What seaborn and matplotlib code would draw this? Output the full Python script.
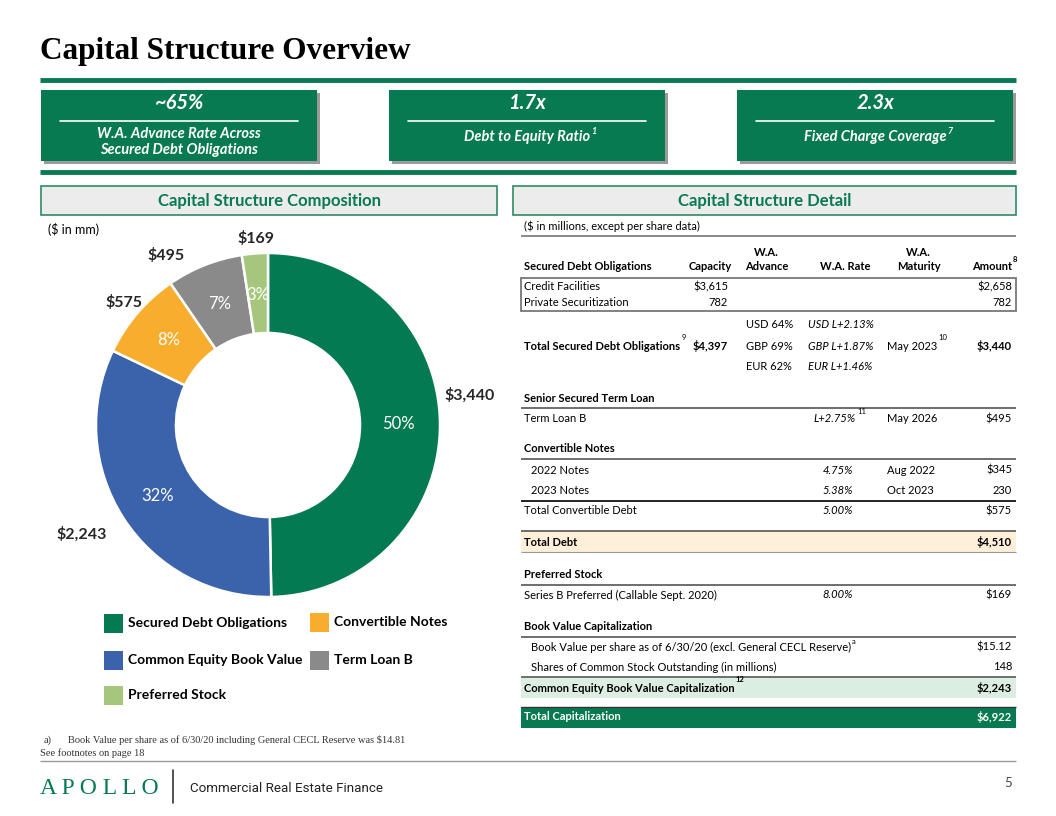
"""
Capital structure overview slide: donut of capital composition plus detail table
"""

import matplotlib
matplotlib.use("Agg")
import matplotlib.pyplot as plt
from matplotlib.patches import Rectangle
import seaborn as sns

# ---- data ----
segments = ["Secured Debt Obligations", "Common Equity Book Value",
            "Convertible Notes", "Term Loan B", "Preferred Stock"]
amounts = [3440, 2243, 575, 495, 169]
amount_labels = ["$3,440", "$2,243", "$575", "$495", "$169"]
pct_labels = ["50%", "32%", "8%", "7%", "3%"]
seg_colors = ["#047A52", "#3A63AC", "#F8AD2C", "#8A8A8A", "#A6C77B"]

kpi_values = ["~65%", "1.7x", "2.3x"]
kpi_captions = ["W.A. Advance Rate Across\nSecured Debt Obligations",
                "Debt to Equity Ratio", "Fixed Charge Coverage"]
kpi_notes = ["", "1", "7"]

secured_rows = [("Credit Facilities", "$3,615", "$2,658"),
                ("Private Securitization", "782", "782")]
advance_rates = ["USD 64%", "GBP 69%", "EUR 62%"]
spread_rates = ["USD L+2.13%", "GBP L+1.87%", "EUR L+1.46%"]
total_secured = ("Total Secured Debt Obligations", "$4,397", "May 2023", "$3,440")
term_loan = ("Term Loan B", "L+2.75%", "May 2026", "$495")
convert_rows = [("2022 Notes", "4.75%", "Aug 2022", "$345"),
                ("2023 Notes", "5.38%", "Oct 2023", "230")]
total_convert = ("Total Convertible Debt", "5.00%", "$575")
total_debt = ("Total Debt", "$4,510")
preferred = ("Series B Preferred (Callable Sept. 2020)", "8.00%", "$169")
book_rows = [("Book Value per share as of 6/30/20 (excl. General CECL Reserve)", "$15.12"),
             ("Shares of Common Stock Outstanding (in millions)", "148")]
common_equity = ("Common Equity Book Value Capitalization", "$2,243")
total_cap = ("Total Capitalization", "$6,922")

GREEN = "#077A51"
SANS = ["Lato", "DejaVu Sans"]
SERIF = ["Liberation Serif", "DejaVu Serif"]
FS = 8  # table font size

sns.set_theme(style="white")
plt.rcParams["font.family"] = SANS

fig = plt.figure(figsize=(10.56, 8.16), dpi=100)
bg = fig.add_axes([0, 0, 1, 1])
bg.set_xlim(0, 1056)
bg.set_ylim(816, 0)
bg.axis("off")
renderer = fig.canvas.get_renderer()


def txt(x, y, s, size=FS, weight="normal", style="normal", ha="left",
        color="black", family=SANS):
    return bg.text(x, y, s, fontsize=size, fontweight=weight, fontstyle=style,
                   ha=ha, va="center", color=color, family=family)


def sup(t, s, dy=-7, size=5.5, **kw):
    # small superscript just after the right end of text t
    bb = t.get_window_extent(renderer)
    xr, _ = bg.transData.inverted().transform((bb.x1, bb.y0))
    return txt(xr + 1, t.get_position()[1] + dy, s, size=size, **kw)


def hline(y, x0=521, x1=1016, color="#555555", lw=1.2):
    bg.plot([x0, x1], [y, y], color=color, lw=lw, solid_capstyle="butt")


def band(y0, y1, color):
    bg.add_patch(Rectangle((521, y0), 495, y1 - y0, facecolor=color, edgecolor="none"))


# ---- title and KPI boxes ----
txt(40, 52, "Capital Structure Overview", size=22.5, weight="bold", family=SERIF)
hline(80, 40, 1016, color=GREEN, lw=3.5)
hline(172, 40, 1016, color=GREEN, lw=3.5)

for i, (val, cap, note) in enumerate(zip(kpi_values, kpi_captions, kpi_notes)):
    x0 = 41 + i * 348
    bg.add_patch(Rectangle((x0 + 3, 93), 276, 71, facecolor="#9a9a9a", edgecolor="none"))
    bg.add_patch(Rectangle((x0, 90), 276, 71, facecolor=GREEN, edgecolor="none"))
    cx = x0 + 138
    txt(cx, 103, val, size=14.5, weight="bold", style="italic", ha="center", color="white")
    bg.plot([x0 + 19, x0 + 257], [121, 121], color="white", lw=1.2)
    if "\n" in cap:
        txt(cx, 142, cap, size=10.5, weight="bold", style="italic", ha="center", color="white")
    else:
        t = txt(cx, 137, cap, size=10.5, weight="bold", style="italic", ha="center", color="white")
        sup(t, note, dy=-6, size=6.5, weight="bold", style="italic", color="white")

# ---- section headers ----
for x0, w, title in [(41, 456, "Capital Structure Composition"),
                     (513, 503, "Capital Structure Detail")]:
    bg.add_patch(Rectangle((x0, 186), w, 29, facecolor="#ECECEC", edgecolor="#2E8B63", lw=1.2))
    txt(x0 + w / 2, 201, title, size=12, weight="bold", ha="center", color=GREEN)

# ---- donut ----
cx, cy, r = 268, 425, 172
pie_ax = fig.add_axes([(cx - r) / 1056, (816 - cy - r) / 816, 2 * r / 1056, 2 * r / 816])
wedges, outer, inner = pie_ax.pie(
    amounts, colors=seg_colors, startangle=90, counterclock=False,
    labels=amount_labels, labeldistance=1.17,
    autopct="%1.0f%%", pctdistance=0.76,
    wedgeprops=dict(width=0.465, edgecolor="white", linewidth=1.8),
    textprops=dict(fontsize=11))
# nudge outer labels toward where the slide puts them (radius units)
label_nudge = [(0.0, 0.16), (-0.1, 0.0), (0.05, -0.05), (-0.16, -0.1), (0.02, -0.08)]
for t, (dx, dy) in zip(outer, label_nudge):
    x, y = t.get_position()
    t.set_position((x + dx, y + dy))
    t.set_fontweight("bold")
    t.set_fontsize(11.5)
    t.set_horizontalalignment("center")
for t, s in zip(inner, pct_labels):
    t.set_text(s)
    t.set_color("white")
    t.set_fontsize(12)
pie_ax.set_xlim(-1, 1)
pie_ax.set_ylim(-1, 1)
pie_ax.set_aspect("equal")
pie_ax.axis("off")

txt(48, 230, "($ in mm)", size=9)

# legend
legend_pos = [(104, 623), (104, 660), (104, 695), (310, 622), (310, 660)]
legend_order = [0, 1, 4, 2, 3]
for (lx, ly), k in zip(legend_pos, legend_order):
    bg.add_patch(Rectangle((lx, ly - 9.5), 19, 19, facecolor=seg_colors[k], edgecolor="none"))
    txt(lx + 24, ly, segments[k], size=10, weight="bold")

# ---- detail table ----
LBL, CAP, ADV, RATE, MAT, AMT = 524, 728, 746, 856, 887, 1012

txt(LBL, 226, "($ in millions, except per share data)")
hline(236, color="#777777")

txt(766, 252, "W.A.", weight="bold", ha="center")
txt(918, 252, "W.A.", weight="bold", ha="center")
for x, s, ha in [(LBL, "Secured Debt Obligations", "left"), (CAP + 4, "Capacity", "right"),
                 (767, "Advance", "center"), (845, "W.A. Rate", "center"),
                 (919, "Maturity", "center")]:
    txt(x, 267, s, weight="bold", ha=ha)
txt(AMT, 267, "Amount", weight="bold", ha="right")
txt(AMT + 1, 260, "8", size=5.5, weight="bold")

bg.add_patch(Rectangle((521, 278), 495, 33, facecolor="none", edgecolor="#777777", lw=1.3))
for y, (name, capv, amt) in zip([287, 303], secured_rows):
    txt(LBL, y, name)
    txt(CAP, y, capv, ha="right")
    txt(AMT, y, amt, ha="right")

for y, adv, rate in zip([325, 346, 367], advance_rates, spread_rates):
    txt(ADV, y, adv)
    txt(808, y, rate, style="italic")
t = txt(LBL, 346, total_secured[0], weight="bold")
sup(t, "9", dy=-9)
txt(CAP, 346, total_secured[1], weight="bold", ha="right")
t = txt(MAT, 346, total_secured[2])
sup(t, "10", dy=-9)
txt(AMT, 346, total_secured[3], weight="bold", ha="right")

txt(LBL, 398, "Senior Secured Term Loan", weight="bold")
hline(408)
txt(LBL, 419, term_loan[0])
t = txt(RATE, 419, term_loan[1], style="italic", ha="right")
sup(t, "11", dy=-8)
txt(MAT, 419, term_loan[2])
txt(AMT, 419, term_loan[3], ha="right")

txt(LBL, 449, "Convertible Notes", weight="bold")
hline(459)
for y, (name, rate, mat, amt) in zip([470, 490], convert_rows):
    txt(531, y, name)
    txt(853, y, rate, style="italic", ha="right")
    txt(MAT, y, mat)
    txt(AMT, y, amt, ha="right")
hline(501, color="black")
txt(LBL, 511, total_convert[0])
txt(853, 511, total_convert[1], style="italic", ha="right")
txt(AMT, 511, total_convert[2], ha="right")

band(531, 552, "#FDEFD8")
hline(531)
hline(552, color="#999999", lw=0.8)
txt(LBL, 542, total_debt[0], weight="bold")
txt(AMT, 542, total_debt[1], weight="bold", ha="right")

txt(LBL, 575, "Preferred Stock", weight="bold")
hline(585)
txt(LBL, 595, preferred[0])
txt(853, 595, preferred[1], style="italic", ha="right")
txt(AMT, 595, preferred[2], ha="right")

txt(LBL, 627, "Book Value Capitalization", weight="bold")
hline(637)
for i, (y, (name, val)) in enumerate(zip([647, 667], book_rows)):
    t = txt(531, y, name)
    if i == 0:
        sup(t, "a", dy=-6)
    txt(AMT, y, val, ha="right")
hline(677)
band(678, 698, "#DCEEE2")
t = txt(LBL, 688, common_equity[0], weight="bold")
sup(t, "12", dy=-8, weight="bold")
txt(AMT, 688, common_equity[1], weight="bold", ha="right")

band(707, 728, GREEN)
hline(707, color="#333333", lw=1.0)
txt(LBL, 717, total_cap[0], weight="bold", color="white")
txt(AMT, 717, total_cap[1], weight="bold", ha="right", color="white")

# ---- footer ----
txt(44, 740, "a)", size=7.5, family=SERIF, color="#333333")
txt(68, 740, "Book Value per share as of 6/30/20 including General CECL Reserve was $14.81",
    size=7.5, family=SERIF, color="#333333")
txt(40, 753, "See footnotes on page 18", size=7.5, family=SERIF, color="#333333")
hline(761, 40, 1016, color="#999999", lw=1.0)
bg.text(40, 788, "A P O L L O", fontsize=17, family=SERIF, color=GREEN, ha="left", va="center")
bg.plot([173, 173], [770, 803], color="#333333", lw=1.2)
txt(190, 788, "Commercial Real Estate Finance", size=9.6, family=["Roboto", "DejaVu Sans"],
    color="#222222")
txt(1012, 783, "5", size=9.5, ha="right", color="#444444")

fig.savefig("out.png", dpi=100)
